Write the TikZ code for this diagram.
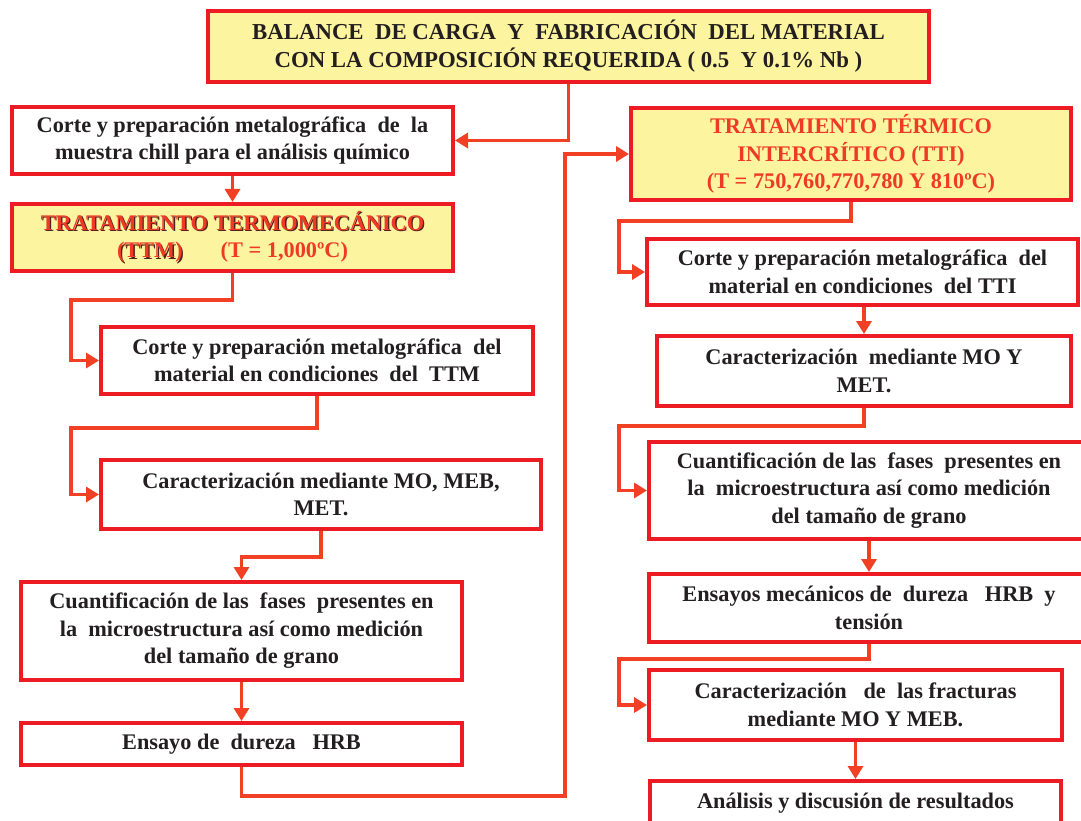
\documentclass[tikz,border=0pt]{standalone}
\usepackage{fontspec}
\setmainfont{Liberation Serif}
\usetikzlibrary{arrows.meta}

\definecolor{borderojo}{RGB}{237,28,36}
\definecolor{linearoja}{RGB}{241,64,36}
\definecolor{amarillo}{RGB}{252,244,158}
\definecolor{textorojo}{RGB}{239,58,38}
\definecolor{textonegro}{RGB}{35,31,32}
\definecolor{sombra}{RGB}{80,35,30}

% red title text with a dark shadow
\newcommand{\sombreado}[1]{\leavevmode\rlap{\kern1.3pt\raisebox{-1.3pt}{\color{sombra}#1}}#1}

\begin{document}
\begin{tikzpicture}[x=1pt, y=-1pt,
    caja/.style={draw=borderojo, line width=4pt, fill=white, align=center,
        inner sep=0pt, text=textonegro,
        font=\bfseries\fontsize{22.3}{27.5}\selectfont},
    cajaamarilla/.style={caja, fill=amarillo, text=textorojo},
    flecha/.style={draw=linearoja, line width=3.6pt, -{Triangle[width=15pt,length=13pt]}}]

    % Page
    \fill[white] (0,0) rectangle (1081,821);
    \clip (0,0) rectangle (1081,821);

    % Top box
    \node[cajaamarilla, text=textonegro, font=\bfseries\fontsize{22.8}{28}\selectfont,
        minimum width=721, minimum height=71] (balance) at (568.5,46.5)
        {BALANCE\ \ DE CARGA\ \ Y\ \ FABRICACIÓN\ \ DEL MATERIAL\\CON LA COMPOSICIÓN REQUERIDA ( 0.5\ \ Y 0.1\% Nb )};

    % Left column (TTM)
    \node[caja, minimum width=441, minimum height=67] (corte) at (232.5,140.5)
        {Corte y preparación metalográfica\ \ de\ \ la\\muestra chill para el análisis químico};
    \node[cajaamarilla, minimum width=441, minimum height=67] (ttm) at (232.5,237.5)
        {\sombreado{TRATAMIENTO TERMOMECÁNICO}\\\sombreado{(TTM)}\hspace{38pt}(T = 1,000ºC)};
    \node[caja, minimum width=432, minimum height=67] (cortettm) at (317,360.5)
        {Corte y preparación metalográfica\ \ del\\material en condiciones\ \ del\ \ TTM};
    \node[caja, minimum width=440, minimum height=69] (caracttm) at (321,494.5)
        {Caracterización mediante MO, MEB,\\MET.};
    \node[caja, minimum width=441, minimum height=98] (cuantttm) at (241.5,631)
        {Cuantificación de las\ \ fases\ \ presentes en\\la\ \ microestructura así como medición\\del tamaño de grano};
    \node[caja, minimum width=441, minimum height=42] (dureza) at (241.5,744)
        {Ensayo de\ \ dureza\ \ \ HRB};

    % Right column (TTI)
    \node[cajaamarilla, minimum width=440, minimum height=92] (tti) at (851,154)
        {TRATAMIENTO TÉRMICO\\INTERCRÍTICO (TTI)\\(T = 750,760,770,780 Y 810ºC)};
    \node[caja, minimum width=431, minimum height=66] (cortetti) at (862.5,272)
        {Corte y preparación metalográfica\ \ del\\material en condiciones\ \ del TTI};
    \node[caja, minimum width=414, minimum height=70] (caractti) at (864,371)
        {Caracterización\ \ mediante MO Y\\MET.};
    \node[caja, minimum width=440, minimum height=97] (cuanttti) at (869,490.5)
        {Cuantificación de las\ \ fases\ \ presentes en\\la\ \ microestructura así como medición\\del tamaño de grano};
    \node[caja, minimum width=440, minimum height=68] (ensayos) at (869,608)
        {Ensayos mecánicos de\ \ dureza\ \ \ HRB\ \ y\\tensión};
    \node[caja, minimum width=413, minimum height=70] (fracturas) at (855.5,705)
        {Caracterización\ \ \ de\ \ las fracturas\\mediante MO Y MEB.};
    \node[caja, minimum width=411, minimum height=44] (analisis) at (855.5,803)
        {Análisis y discusión de resultados};

    % Connectors, left column
    \draw[flecha] (balance.south) |- (corte.east);
    \draw[flecha] (corte.south) -- (ttm.north);
    \draw[flecha] (ttm.south) -- ++(0,27) -| ([xshift=-28pt]cortettm.west) -- (cortettm.west);
    \draw[flecha] (cortettm.south) -- ++(0,32) -| ([xshift=-28pt]caracttm.west) -- (caracttm.west);
    \draw[flecha] (caracttm.south) -- ++(0,26) -| (cuantttm.north);
    \draw[flecha] (cuantttm.south) -- (dureza.north);
    \draw[flecha] (dureza.south) -- ++(0,29) -| ([xshift=-64pt]tti.west) -- (tti.west);

    % Connectors, right column
    \draw[flecha] (tti.south) -- ++(0,19) -| ([xshift=-26pt]cortetti.west) -- (cortetti.west);
    \draw[flecha] (caractti.north |- cortetti.south) -- (caractti.north);
    \draw[flecha] (caractti.south) -- ++(0,18) -| ([xshift=-28pt]cuanttti.west) -- (cuanttti.west);
    \draw[flecha] (cuanttti.south) -- (ensayos.north);
    \draw[flecha] (ensayos.south) -- ++(0,15) -| ([xshift=-28pt]fracturas.west) -- (fracturas.west);
    \draw[flecha] (fracturas.south) -- (analisis.north);

\end{tikzpicture}
\end{document}
